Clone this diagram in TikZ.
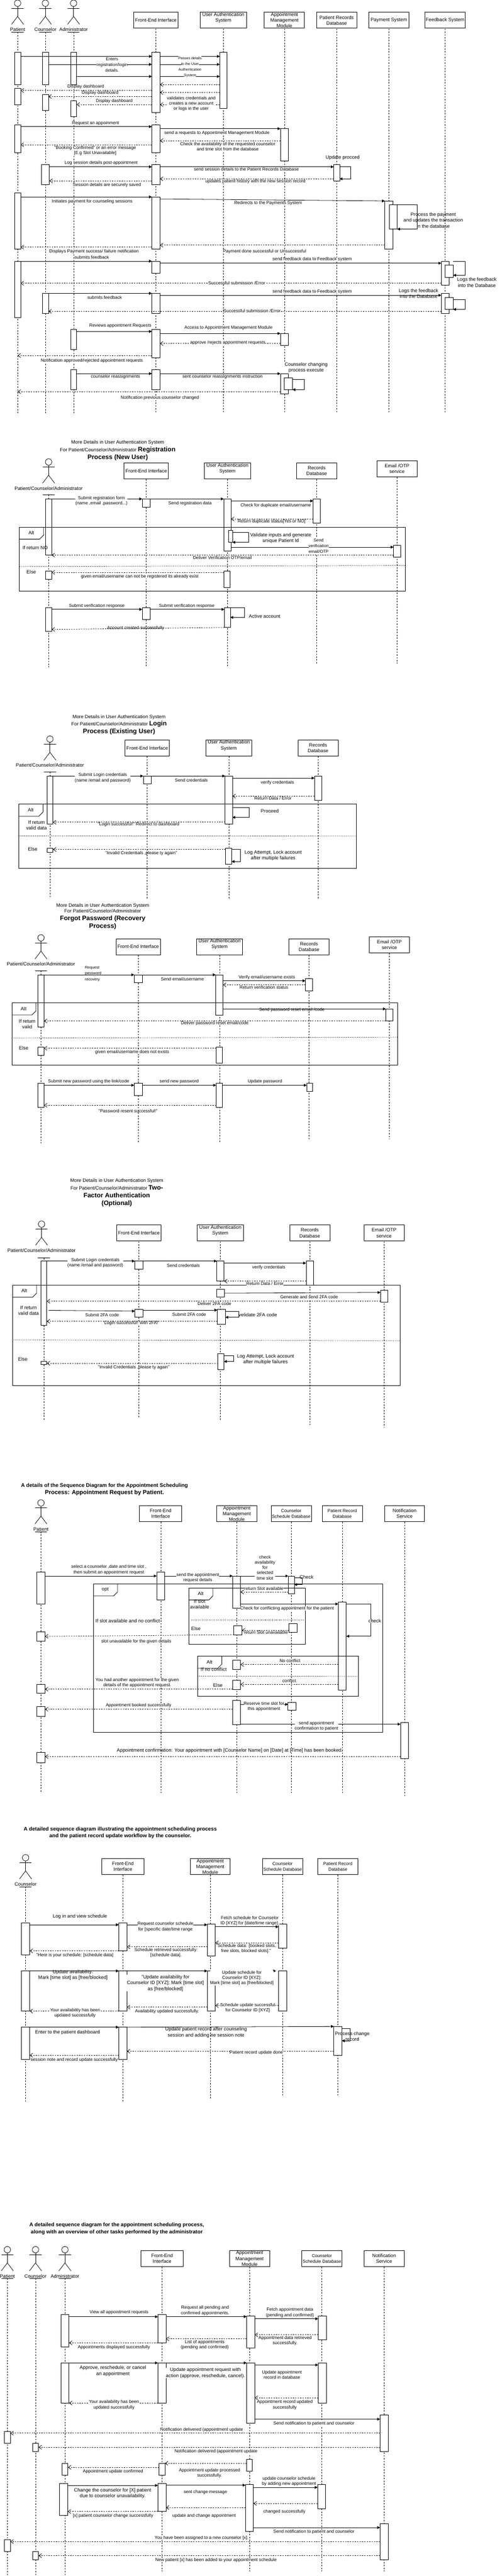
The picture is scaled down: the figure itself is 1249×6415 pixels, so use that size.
\documentclass[tikz,border=0pt]{standalone}
\usepackage{fontspec}
\setmainfont{Liberation Sans}
\usetikzlibrary{arrows.meta}
\setlength{\fboxsep}{0pt}
\newcounter{lblno}

\tikzset{
  lifeline/.style={line width=0.7pt,dash pattern=on 3.5pt off 3.5pt},
  headbox/.style={draw,line width=1pt,fill=white,inner sep=0pt,outer sep=0pt,anchor=north,minimum height=40pt,align=center,font=\fontsize{12}{14.4}\selectfont},
  actbox/.style={draw,line width=1pt,fill=white,inner sep=0pt,outer sep=0pt,anchor=north},
  framerect/.style={draw,line width=1pt,inner sep=0pt,outer sep=0pt,anchor=north west},
  call/.style={line width=1pt,-{Triangle[length=7pt,width=7pt]}},
  ret/.style={line width=1pt,dash pattern=on 3pt off 3pt,-{Straight Barb[length=7pt,width=10pt]}},
  sepline/.style={line width=1.2pt,dash pattern=on 1.5pt off 3pt},
  lab/.style={align=center,inner sep=0pt,fill=white,font=\fontsize{11}{13.2}\selectfont},
  labn/.style={align=center,inner sep=0pt,font=\fontsize{11}{13.2}\selectfont},
  labb/.style={align=center,inner sep=0pt,fill=white,font=\fontsize{12}{14.6}\selectfont},
  labbn/.style={align=center,inner sep=0pt,font=\fontsize{12}{14.6}\selectfont},
  labs/.style={align=center,inner sep=0pt,font=\fontsize{9}{14.4}\selectfont},
  labm/.style={align=center,inner sep=0pt,font=\fontsize{10.5}{14.4}\selectfont},
  titlefont/.style={align=center,inner sep=0pt,font=\fontsize{12}{19}\selectfont},
  titlebold/.style={align=center,inner sep=0pt,font=\fontsize{13}{17}\selectfont\bfseries}
}

\newcommand{\ttl}[1]{{\fontsize{16}{19}\selectfont\bfseries #1}}
\newcommand{\ttlb}[1]{{\fontsize{14.6}{17}\selectfont\bfseries #1}}
\newcommand{\wb}[1]{\colorbox{white}{\strut #1}}
% name, x, top, label, lifeline x, underline y, lifeline end
\newcommand{\actorfig}[7]{
  \node[draw,circle,inner sep=0pt,minimum size=16pt] (#1) at (#2,#3+8) {};
  \node[labbn] (#1l) at (#2,#3+73.5) {#4};
  \coordinate (#1hip) at (#2,#3+41);
  \coordinate (#1top) at (#5,#6);
  \coordinate (#1end) at (#5,#7);
  \draw (#1) -- (#1hip);
  \draw (#2-15,#3+20.4) -- (#2+15,#3+20.4);
  \draw (#2-15,#3+60.7) -- (#1hip) -- (#2+15,#3+60.7);
  \draw (#5-15,#6) -- (#5+15,#6);
  \draw[lifeline] (#1top) -- (#1end);
}
% name, x, top, width, text, lifeline end
\newcommand{\lifebox}[6]{
  \coordinate (#1end) at (#2,#6);
  \draw[lifeline] (#2,#3+20) -- (#1end);
  \node[headbox,minimum width=#4pt] (#1) at (#2,#3) {#5};
}
\newcommand{\actbar}[5][20]{\node[actbox,minimum width=#1pt,minimum height=(#5-#4)*1pt] (#2) at (#3,#4) {};}
\newcommand{\umlframe}[6]{
  \node[framerect,minimum width=(#4-#2)*1pt,minimum height=(#5-#3)*1pt] (#1) at (#2,#3) {};
  \draw[line width=1pt] (#1.north west) ++(60,0) -- ++(0,20) -- ++(-10,10) -- ++(-50,0);
  \node[labbn] (#1t) at (#2+29.4,#3+14.3) {#6};
}
\newcommand{\altsep}[5]{
  \coordinate (#1a) at (#2,#3);
  \coordinate (#1b) at (#4,#5);
  \draw[sepline] (#1a) -- (#1b);
}
\newcommand{\rmsg}[4][call]{\draw[#1] (#2.east |- 0,#4) -- (#3.west |- 0,#4);}
\newcommand{\lmsg}[4][ret]{\draw[#1] (#2.west |- 0,#4) -- (#3.east |- 0,#4);}
% from, to, right x, y1, y2
\newcommand{\loopmsg}[5]{\draw[call] (#1.east |- 0,#4) -- (#3,#4) -- (#3,#5) -- (#2.east |- 0,#5);}
\newcommand{\lbl}[4][lab]{\stepcounter{lblno}\node[#1] (t\arabic{lblno}) at (#2,#3) {#4};}

\begin{document}
\begin{tikzpicture}[x=1pt,y=-1pt,line width=1pt]
  \useasboundingbox (0,0) rectangle (1249,6415);

  %%%%% overview
  \actorfig{S1pat}{43.8}{0}{Patient}{43.8}{80.4}{1030}
  \actorfig{S1cou}{113}{0}{Counselor}{113}{80.4}{1030}
  \actorfig{S1adm}{183.2}{0}{Administrator}{183.2}{80.4}{1030}
  \lifebox{S1fe}{388}{30.4}{110}{Front-End Interface}{1028}
  \lifebox{S1ua}{556}{30.4}{115}{User Authentication\\System\\~}{1028}
  \lifebox{S1am}{708}{30.4}{100}{Appointment\\Management\\Module}{1028}
  \lifebox{S1pr}{838}{30.4}{100}{Patient Records\\Database}{1028}
  \lifebox{S1pay}{968}{30.4}{100}{Payment System}{1028}
  \lifebox{S1fb}{1108}{30.4}{100}{Feedback System}{1028}

  %bars
  \actbar[15]{S1P1}{43.8}{130.4}{210.4}
  \actbar[15]{S1C1}{113}{130.4}{210.4}
  \actbar[15]{S1A1}{183.2}{130.4}{210.4}
  \actbar{S1F1}{388}{130.4}{280.4}
  \actbar[18]{S1U1}{556}{130.4}{270.4}
  \actbar[15]{S1P2}{43.8}{220.4}{260.4}
  \actbar[15]{S1C2}{113}{235.4}{275.4}
  \actbar[15]{S1A2}{183.2}{250.4}{290.4}
  \actbar[15]{S1P3}{43.8}{310.4}{380.4}
  \actbar{S1F2}{388}{310.4}{380.4}
  \actbar{S1M1}{708}{320.4}{400.4}
  \actbar{S1C3}{113}{410.4}{460.4}
  \actbar{S1F3}{388}{410.4}{460.4}
  \actbar[15]{S1R1}{838}{410.4}{450.4}
  \actbar[15]{S1P4}{43.8}{480.4}{620.4}
  \actbar{S1F4}{388}{490.4}{620.4}
  \actbar{S1Y1}{968}{500.4}{620.4}
  \actbar{S1Y2}{978.6}{510.4}{570.4}
  \actbar[15]{S1P5}{43.8}{650.4}{790.4}
  \actbar{S1F5}{388}{650.4}{680.4}
  \actbar{S1B1}{1108.5}{650.4}{710.4}
  \actbar{S1B2}{1118}{660.4}{690.4}
  \actbar[15]{S1C4}{113}{730.4}{780.4}
  \actbar{S1F6}{388}{730.4}{780.4}
  \actbar{S1B3}{1108.5}{730.4}{780.4}
  \actbar{S1B4}{1118}{740.4}{770.4}
  \actbar[15]{S1A3}{183.2}{820.4}{870.4}
  \actbar{S1F7}{388}{820.4}{890.4}
  \actbar{S1M2}{708}{830.4}{860.4}
  \actbar[15]{S1A4}{183.2}{920.4}{970.4}
  \actbar{S1F8}{388}{920.4}{970.4}
  \actbar{S1M3}{708}{930.4}{980.4}
  \actbar{S1M4}{718}{940.4}{970.4}

  %messages
  \rmsg{S1P1}{S1F1}{140.4}
  \rmsg{S1C1}{S1F1}{160.4}
  \rmsg{S1A1}{S1F1}{190.4}
  \rmsg{S1F1}{S1U1}{140.4}
  \rmsg{S1F1}{S1U1}{160.4}
  \rmsg{S1F1}{S1U1}{190.4}
  \lmsg{S1U1}{S1F1}{210.4}
  \lmsg{S1U1}{S1F1}{230.4}
  \lmsg{S1U1}{S1F1}{260.4}
  \lmsg{S1F1}{S1P2}{225.4}
  \lmsg{S1F1}{S1C2}{240.4}
  \lmsg{S1F1}{S1A2}{260.4}
  \rmsg{S1P3}{S1F2}{315.4}
  \rmsg{S1F2}{S1M1}{320.4}
  \lmsg{S1M1}{S1F2}{350.4}
  \lmsg{S1F2}{S1P3}{360.4}
  \rmsg{S1C3}{S1F3}{415.4}
  \rmsg{S1F3}{S1R1}{415.4}
  \loopmsg{S1R1}{S1R1}{873}{415.4}{445.4}
  \lmsg{S1R1}{S1F3}{445.4}
  \lmsg{S1F3}{S1C3}{450.4}
  \rmsg{S1P4}{S1F4}{490.4}
  \draw[call] (S1F4.east |- 0,495.4) -- (S1Y1.west |- 0,500.4);
  \loopmsg{S1Y2}{S1Y2}{1038}{510.4}{570.4}
  \lmsg{S1Y1}{S1F4}{610.4}
  \lmsg{S1F4}{S1P4}{615.4}
  \rmsg{S1P5}{S1F5}{650.4}
  \rmsg{S1F5}{S1B1}{655.4}
  \loopmsg{S1B2}{S1B2}{1158}{650.4}{685.4}
  \lmsg{S1B1}{S1P5}{705.4}
  \rmsg{S1C4}{S1F6}{730.4}
  \rmsg{S1F6}{S1B3}{735.4}
  \loopmsg{S1B4}{S1B4}{1158}{745.4}{770.4}
  \lmsg{S1B3}{S1C4}{775.4}
  \rmsg{S1A3}{S1F7}{825.4}
  \rmsg{S1F7}{S1M2}{830.4}
  \lmsg{S1M2}{S1F7}{855.4}
  \draw[ret] (S1F7.west |- 0,885.4) -- (S1pattop |- 0,885.4);
  \rmsg{S1A4}{S1F8}{930.4}
  \rmsg{S1F8}{S1M3}{930.4}
  \loopmsg{S1M4}{S1M4}{758}{945.4}{970.4}
  \draw[ret] (S1M3.west |- 0,975.4) -- (S1pattop |- 0,975.4);

  %labels
  \lbl[labm]{279}{161}{Enters\\\wb{registration/login}\\details.}
  \lbl[labs]{473}{166.5}{\wb{Passes details}\\\wb{to the User}\\Authentication\\\wb{System}}
  \lbl{476}{258}{validates credentials and\\creates a new account\\or logs in the user}
  \lbl{213.5}{216.4}{Display dashboard}
  \lbl{249}{231.4}{Display dashboard}
  \lbl{284.4}{251.4}{Display dashboard}
  \lbl{238}{306.4}{Request an appoinment}
  \lbl{540}{331.4}{send a requests to Appointment Management Module}
  \lbl{567}{365}{Check the availability of the requested counselor\\and time slot from the database}
  \lbl{237}{375}{"Booking Confirmed" or an error message\\{[}E.g Slot Unavailable]}
  \lbl{251.7}{406.4}{Log session details post-appointment}
  \lbl{613.4}{421.4}{send session details to the Patient Records Database}
  \lbl[labbn]{853}{392.9}{Update procced}
  \lbl{635.7}{451.4}{updates patient history with the new session record}
  \lbl{266}{461.4}{Session details are securely saved}
  \lbl{229.4}{501.4}{Initiates payment for counseling sessions}
  \lbl{667.5}{506.4}{Redirects to the Payments System}
  \lbl[labbn]{1078.5}{548.4}{Process the payment\\and updates the transaction\\in the database}
  \lbl{658.8}{626.3}{Payment done successful or Unsuccessful}
  \lbl{234}{626.3}{Displays Payment success/ failure notification}
  \lbl{228.6}{641.3}{submits feedback}
  \lbl{777.4}{646.3}{send feedback data to Feedback system}
  \lbl[labb]{1187}{703.3}{Logs the feedback\\into the Database}
  \lbl{589.5}{704.3}{Successful submission /Error}
  \lbl{260.5}{741.3}{submits feedback}
  \lbl{777.4}{726.3}{send feedback data to Feedback system}
  \lbl[labbn]{1042}{730.5}{Logs the feedback\\into the Database}
  \lbl{627.7}{774.3}{Successful submission /Error}
  \lbl{299.5}{811.3}{Reviews appointment Requests}
  \lbl{568.7}{816.3}{Access to Appointment Management Module}
  \lbl{567}{853.6}{approve /rejects appointment requests}
  \lbl{228.6}{898.6}{Notification approved/rejected appointment requests}
  \lbl{287.5}{938.6}{counselor reassignments}
  \lbl{554}{938.6}{sent counselor reassignments instruction}
  \lbl[labb]{762}{915.5}{Counselor changing\\process execute}
  \lbl{398}{991.3}{Notification previous counselor changed}

  %%%%% registration
  \node[titlefont] (S2title) at (293,1122) {More Details in User Authentication System\\For Patient/Counselor/Administrator \ttl{Registration}\\\ttl{Process (New User)}};
  \actorfig{S2act}{121}{1142.5}{Patient/Counselor/Administrator}{121}{1232.5}{1662}
  \lifebox{S2fe}{364}{1152.5}{110}{Front-End Interface}{1662}
  \lifebox{S2ua}{566}{1152.5}{115}{User Authentication\\System\\~}{1662}
  \lifebox{S2rd}{788.3}{1152.5}{100}{Records\\Database}{1652}
  \lifebox{S2em}{988.3}{1147.5}{100}{Email /OTP\\service}{1652}

  \actbar[15]{S2P1}{121}{1242.5}{1382.5}
  \actbar{S2F1}{364}{1242.5}{1262.5}
  \actbar[18]{S2U1}{566}{1242.5}{1372.5}
  \actbar[18]{S2R1}{788.6}{1242.5}{1302.5}
  \actbar[10]{S2U2}{573.5}{1320.5}{1350.5}
  \actbar[18]{S2E1}{988.5}{1357.5}{1387.5}
  \actbar[15]{S2P2}{121}{1422.5}{1442.5}
  \actbar[15]{S2U3}{565}{1422.5}{1462.5}
  \actbar[15]{S2P3}{121}{1512.5}{1572.5}
  \actbar{S2F2}{364}{1512.5}{1542.5}
  \actbar[15]{S2U4}{566}{1512.5}{1562.5}
  \umlframe{S2alt}{48.6}{1312.5}{1008.4}{1472.5}{Alt}
  \altsep{S2sep}{48.6}{1411}{1008.4}{1408.2}

  \rmsg{S2P1}{S2F1}{1242.5}
  \rmsg{S2F1}{S2U1}{1242.5}
  \rmsg{S2U1}{S2R1}{1247.5}
  \lmsg{S2R1}{S2U1}{1292.5}
  \loopmsg{S2U2}{S2U2}{619}{1325.4}{1350.5}
  \rmsg{S2U1}{S2E1}{1362.5}
  \lmsg{S2E1}{S2P1}{1382.5}
  \lmsg{S2U3}{S2P2}{1425.4}
  \rmsg{S2P3}{S2F2}{1517.5}
  \rmsg{S2F2}{S2U4}{1517.5}
  \loopmsg{S2U4}{S2U4}{608.6}{1512.5}{1537.5}
  \draw[ret] (S2U4.west |- 0,1562.5) -- (S2P3.east |- 0,1567.5);

  \lbl{252.5}{1247}{Submit registration form\\(name ,email ,password...)}
  \lbl{473}{1253.6}{Send registration data}
  \lbl{686.6}{1258.6}{Check for duplicate email/username}
  \lbl{676}{1298.6}{Return duplicate status[Yes or NO]}
  \lbl[labbn]{87.6}{1364.6}{If return NO}
  \lbl[labb]{699}{1340.5}{Validate inputs and generate\\unique Patient Id}
  \lbl[labm]{793}{1360.5}{\wb{Send}\\\wb{verification}\\\wb{email/OTP}}
  \lbl{553.6}{1388.2}{Deliver Verification OTP/email}
  \lbl[labbn]{78}{1424.6}{Else}
  \lbl{348}{1435.4}{given email/username can not be registered its already exist}
  \lbl{241}{1508.6}{Submit verification response}
  \lbl{465}{1508.6}{Submit verification response}
  \lbl[labbn]{658.7}{1534.6}{Active account}
  \lbl[labn]{337.7}{1564.6}{Account created successfully}

  %%%%% login
  \node[titlefont] (S3title) at (296.3,1805) {More Details in User Authentication System\\For Patient/Counselor/Administrator \ttl{Login}\\\ttl{Process (Existing User)}};
  \actorfig{S3act}{124.3}{1832.5}{Patient/Counselor/Administrator}{124.3}{1922.5}{2237}
  \lifebox{S3fe}{366.6}{1842.5}{110}{Front-End Interface}{2237}
  \lifebox{S3ua}{569.5}{1842.5}{115}{User Authentication\\System\\~}{2237}
  \lifebox{S3rd}{791.8}{1842.5}{100}{Records\\Database}{2237}

  \actbar[15]{S3P1}{124.3}{1932.5}{2052.5}
  \actbar{S3F1}{366.6}{1932.5}{1952.5}
  \actbar[18]{S3U1}{569.5}{1932.5}{2052.5}
  \actbar[18]{S3R1}{791.8}{1932.5}{1992.5}
  \actbar[15]{S3P2}{124.3}{2112.5}{2122.5}
  \actbar[15]{S3U2}{569}{2112.5}{2152.5}
  \umlframe{S3alt}{47}{2002.5}{887.4}{2162.5}{Alt}
  \altsep{S3sep}{47}{2081.4}{887.4}{2082}

  \rmsg{S3P1}{S3F1}{1932.5}
  \rmsg{S3F1}{S3U1}{1932.5}
  \rmsg{S3U1}{S3R1}{1937.5}
  \lmsg{S3R1}{S3U1}{1982.5}
  \loopmsg{S3U1}{S3U1}{619.7}{2010.4}{2035.4}
  \lmsg{S3U1}{S3P1}{2047.5}
  \lmsg{S3U2}{S3P2}{2115.4}
  \loopmsg{S3U2}{S3U2}{599}{2115.4}{2145.4}

  \lbl{255.7}{1937}{Submit Login credentials\\(name /email and password)}
  \lbl{476.4}{1943.6}{Send credentials}
  \lbl{690.6}{1948.6}{verify credentials}
  \lbl{679.5}{1988.2}{Return Data / Error}
  \lbl[labbn]{671.5}{2020}{Proceed}
  \lbl{345}{2053.2}{"Login successful!" Redirect to dashboard}
  \lbl[labbn]{90.8}{2055.2}{If return\\valid data}
  \lbl[labbn]{81.3}{2114.6}{Else}
  \lbl[labn]{351.3}{2125.4}{"Invalid Credentials ,please ty again"}
  \lbl[labbn]{680}{2130.7}{Log Attempt, Lock account\\after multiple failures}

  %%%%% forgot password
  \node[titlefont,font=\fontsize{12}{14}\selectfont] (S4title) at (255.7,2282) {More Details in User Authentication System\\For Patient/Counselor/Administrator\\[5pt]\ttl{Forgot Password (Recovery}\\[3pt]\ttl{Process)}};
  \actorfig{S4act}{102}{2327.5}{Patient/Counselor/Administrator}{102}{2417.5}{2846.5}
  \lifebox{S4fe}{344}{2337.5}{110}{Front-End Interface}{2847}
  \lifebox{S4ua}{546.6}{2337.5}{115}{User Authentication\\System\\~}{2847}
  \lifebox{S4rd}{769.3}{2337.5}{100}{Records\\Database}{2837}
  \lifebox{S4em}{969.4}{2332.5}{100}{Email /OTP\\service}{2837}

  \actbar[15]{S4P1}{102}{2427.5}{2557.5}
  \actbar{S4F1}{344}{2427.5}{2447.5}
  \actbar[18]{S4U1}{546}{2427.5}{2527.5}
  \actbar[18]{S4R1}{769.3}{2437.5}{2467.5}
  \actbar[18]{S4E1}{969.4}{2512.5}{2542.5}
  \actbar[15]{S4P2}{102}{2607.5}{2627.5}
  \actbar[15]{S4U2}{545.5}{2607.5}{2647.5}
  \actbar[15]{S4P3}{102}{2697.5}{2757.5}
  \actbar{S4F2}{344}{2697.5}{2727.5}
  \actbar[15]{S4U3}{545.5}{2697.5}{2757.5}
  \actbar[15]{S4R2}{771}{2697.5}{2717.5}
  \umlframe{S4alt}{29.5}{2497.5}{990}{2652.5}{Alt}
  \altsep{S4sep}{29.5}{2585}{990}{2582.9}

  \rmsg{S4P1}{S4F1}{2427.5}
  \rmsg{S4F1}{S4U1}{2427.5}
  \rmsg{S4U1}{S4R1}{2442.5}
  \lmsg{S4R1}{S4U1}{2452.5}
  \rmsg{S4U1}{S4E1}{2512.5}
  \lmsg{S4E1}{S4P1}{2542.5}
  \lmsg{S4U2}{S4P2}{2610.4}
  \rmsg{S4P3}{S4F2}{2702.5}
  \rmsg{S4F2}{S4U3}{2702.5}
  \rmsg{S4U3}{S4R2}{2702.5}
  \lmsg{S4U3}{S4P3}{2752.5}

  \lbl[labm,align=left,font=\fontsize{9.6}{14.8}\selectfont]{232}{2424.6}{Request\\password\\recovery}
  \lbl{454}{2438.6}{Send email/username}
  \lbl{664.3}{2433.6}{Verify email/username exists}
  \lbl{657}{2458.6}{Return verification status}
  \lbl[labn]{726.5}{2515}{Send password reset email /code}
  \lbl{534.5}{2548.6}{Deliver password reset email/code}
  \lbl[labbn]{67.7}{2550.4}{If return\\valid}
  \lbl[labbn]{59}{2609.6}{Else}
  \lbl{329}{2620.4}{given email/username does not exists}
  \lbl{220.6}{2693.6}{Submit new password using the link/code}
  \lbl{446}{2693.6}{send new password}
  \lbl{659.6}{2693.6}{Update password}
  \lbl[labn]{318.6}{2766.8}{"Password resent successful!"}

  %%%%% two factor
  \node[titlefont] (S5title) at (290.7,2970) {More Details in User Authentication System\\For Patient/Counselor/Administrator \ttl{Two-}\\\ttl{Factor Authentication}\\\ttl{(Optional)}};
  \actorfig{S5act}{103.5}{3040.4}{Patient/Counselor/Administrator}{109}{3132.9}{3537.5}
  \lifebox{S5fe}{345.7}{3050.4}{110}{Front-End Interface}{3531}
  \lifebox{S5ua}{548.4}{3050.4}{115}{User Authentication\\System\\~}{3537.5}
  \lifebox{S5rd}{771}{3050.4}{100}{Records\\Database}{3549}
  \lifebox{S5em}{956}{3050.4}{100}{Email /OTP\\service}{3555.7}

  \actbar[15]{S5P1}{109}{3140.4}{3300.4}
  \actbar{S5F1}{345.7}{3140.4}{3160.4}
  \actbar[18]{S5U1}{548.8}{3140.4}{3190.4}
  \actbar[18]{S5R1}{771}{3140.4}{3200.4}
  \actbar{S5U2}{548.8}{3210.4}{3230.4}
  \actbar[18]{S5E1}{956}{3213.2}{3243.2}
  \actbar{S5F2}{345.7}{3260.4}{3280.4}
  \actbar{S5U3}{551}{3260.4}{3297.5}
  \actbar[15]{S5P2}{109}{3390.4}{3398.2}
  \actbar[15]{S5U4}{550}{3370.4}{3410.4}
  \umlframe{S5alt}{31}{3200.4}{996.5}{3450.4}{Alt}
  \altsep{S5sep}{34}{3336.8}{996.5}{3338.6}

  \coordinate (S5from) at (121,3263.2);
  \rmsg{S5P1}{S5F1}{3140.4}
  \rmsg{S5F1}{S5U1}{3140.4}
  \rmsg{S5U1}{S5R1}{3145.4}
  \lmsg{S5R1}{S5U1}{3190.4}
  \draw[call] (S5U2.east |- 0,3220.4) -- (S5E1.west |- 0,3218.6);
  \lmsg{S5E1}{S5P1}{3240.4}
  \draw[call] (S5from) -- (S5F2.west |- 0,3265);
  \rmsg{S5F2}{S5U3}{3262.5}
  \loopmsg{S5U3}{S5U3}{595}{3265.4}{3280.4}
  \lmsg{S5U3}{S5P1}{3290.4}
  \lmsg{S5U4}{S5P2}{3395}
  \loopmsg{S5U4}{S5U4}{581.5}{3375.4}{3390.4}

  \lbl{237.4}{3145}{Submit Login credentials\\(name /email and password)}
  \lbl{456.4}{3151.4}{Send credentials}
  \lbl{669}{3156.4}{verify credentials}
  \lbl{659.6}{3196.4}{Return Data / Error}
  \lbl{769.5}{3230.4}{Generate and send 2FA code}
  \lbl{533.7}{3246.4}{Deliver 2FA code}
  \lbl[labbn]{71}{3263.4}{If return\\valid data}
  \lbl{254}{3275}{Submit 2FA code}
  \lbl{470.8}{3273}{Submit 2FA code}
  \lbl[labbn]{642}{3274.6}{velidate 2FA code}
  \lbl{326.6}{3295.7}{"Login successful! with 2FA!"}
  \lbl[labbn]{56.6}{3384.6}{Else}
  \lbl[labn]{333}{3405.4}{"Invalid Credentials ,please ty again"}
  \lbl[labbn]{661}{3385.4}{Log Attempt, Lock account\\after multiple failures}

  %%%%% appointment request
  \node[titlebold] (S6title) at (260,3709) {A details of the Sequence Diagram for the Appointment Scheduling\\\ttlb{Process: Appointment Request by Patient.}};
  \actorfig{S6act}{102}{3734.6}{Patient}{102}{3814.3}{4464.6}
  \lifebox{S6fe}{400}{3749.3}{105}{Front-End\\Interface}{4464.6}
  \lifebox{S6am}{589.5}{3749.3}{100}{Appointment\\Management\\Module}{4464.6}
  \lifebox{S6cs}{724.8}{3749.3}{100}{\fontsize{11}{14.4}\selectfont Counselor\\\fontsize{11}{14.4}\selectfont Schedule Database}{4464.6}
  \lifebox{S6pr}{852}{3749.3}{100}{\fontsize{11}{14.4}\selectfont Patient Record\\\fontsize{11}{14.4}\selectfont Database}{4464.6}
  \lifebox{S6ns}{1007}{3749.3}{100}{Notification\\Service}{4475.4}

  \actbar{S6P1}{102}{3914.3}{3994.3}
  \actbar{S6F1}{400}{3914.3}{3984.3}
  \actbar{S6A1}{589}{3924.6}{4004.3}
  \actbar[15]{S6C1}{725}{3924.6}{3969.3}
  \actbar{S6R1}{852}{3989.3}{4209.3}
  \actbar{S6A2}{592}{4048.6}{4071.4}
  \actbar{S6C2}{729.5}{4042.9}{4065.4}
  \actbar{S6P2}{102}{4064.3}{4086.4}
  \actbar{S6A3}{589}{4134.3}{4156.8}
  \actbar{S6A4}{589}{4184.3}{4206.8}
  \actbar{S6P3}{102}{4194.3}{4216.4}
  \actbar{S6A5}{589}{4234.3}{4294.3}
  \actbar{S6C3}{727}{4239.3}{4259.3}
  \actbar{S6P4}{102}{4249.3}{4274.3}
  \actbar{S6N1}{1007}{4289.3}{4379.3}
  \actbar{S6P5}{102}{4364.3}{4389.3}
  \umlframe{S6opt}{232.6}{3944.3}{952}{4314.3}{opt}
  \umlframe{S6altA}{470}{3954.3}{760}{4094.3}{Alt}
  \umlframe{S6altB}{492.3}{4124.3}{892}{4224.3}{Alt}
  \altsep{S6sepA}{475.5}{4034.6}{760}{4034.6}
  \altsep{S6sepB}{492.3}{4174}{892}{4174.6}

  \rmsg{S6P1}{S6F1}{3924.6}
  \rmsg{S6F1}{S6A1}{3924.6}
  \rmsg{S6A1}{S6C1}{3924.6}
  \loopmsg{S6C1}{S6C1}{752.7}{3929.6}{3946}
  \lmsg{S6C1}{S6A1}{3964.6}
  \rmsg{S6A1}{S6R1}{3994.3}
  \loopmsg{S6R1}{S6R1}{922.4}{3994.3}{4074.6}
  \lmsg{S6C2}{S6A2}{4060}
  \draw[ret] (S6A2.west |- 0,4071) -- (S6P2.east |- 0,4075);
  \lmsg{S6R1}{S6A3}{4145}
  \lmsg{S6R1}{S6A4}{4194.6}
  \lmsg{S6A4}{S6P3}{4206.4}
  \rmsg{S6A5}{S6C3}{4244.3}
  \lmsg{S6A5}{S6P4}{4256.4}
  \rmsg{S6A5}{S6N1}{4293.6}
  \lmsg{S6N1}{S6P5}{4374.3}

  \lbl[labn]{271}{3909}{select a counselor ,date and time slot ,\\then submit an appointment request}
  \lbl{492.3}{3929}{send the appointment\\request details}
  \lbl{659.6}{3903.6}{check\\availability\\for\\selected\\time slot}
  \lbl[labbn]{763}{3926.8}{Check}
  \lbl{657}{3955.4}{return Slot available}
  \lbl[labbn]{497}{3994.6}{If slot\\available}
  \lbl{714.5}{4005.4}{Check for conflicting appointment for the patient}
  \lbl[labb]{932.8}{4037.1}{check}
  \lbl[labbn]{318}{4036.8}{If slot available and no conflict}
  \lbl[labbn]{487.5}{4055.7}{Else}
  \lbl{662}{4065.4}{return Slot unavailable}
  \lbl{339.3}{4087.5}{slot unavailable for the given details}
  \lbl[labbn]{532}{4156.8}{If no conflict}
  \lbl{721.7}{4136}{No conflict}
  \lbl{720}{4185.4}{conflict}
  \lbl[labbn]{542.5}{4196.8}{Else}
  \lbl{341.7}{4191}{You had another appointment for the given\\details of the appointment request.}
  \lbl{657}{4250}{Reserve time slot for\\this appointment}
  \lbl{345}{4247.5}{Appointment booked successfully}
  \lbl{787.8}{4298}{send appointment\\confirmation to patient}
  \lbl[labbn]{572}{4359.6}{Appointment confirmation: Your appointment with [Counselor Name] on [Date] at [Time] has been booked.}

  %%%%% counselor
  \node[titlebold] (S7title) at (299.5,4564) {A detailed sequence diagram illustrating the appointment scheduling process\\and the patient record update workflow by the counselor.};
  \actorfig{S7act}{63.7}{4618.2}{Counselor}{63.7}{4698.2}{5235.7}
  \lifebox{S7fe}{305.9}{4628.2}{105}{Front-End\\Interface}{5235.7}
  \lifebox{S7am}{523.3}{4628.2}{100}{Appointment\\Management\\Module}{5229}
  \lifebox{S7cs}{703.4}{4628.2}{100}{\fontsize{11}{14.4}\selectfont Counselor\\\fontsize{11}{14.4}\selectfont Schedule Database}{5217.5}
  \lifebox{S7pr}{841}{4628.2}{100}{\fontsize{11}{14.4}\selectfont Patient Record\\\fontsize{11}{14.4}\selectfont Database}{5217.5}

  \actbar{S7C1}{63.7}{4788.2}{4868.2}
  \actbar{S7F1}{305.9}{4788.2}{4858.2}
  \actbar{S7A1}{526}{4790.7}{4871}
  \actbar{S7D1}{703.4}{4790.7}{4851}
  \actbar{S7C2}{63.7}{4908.2}{5008.2}
  \actbar{S7F2}{305.9}{4908.2}{5008.2}
  \actbar{S7A2}{526}{4908.2}{5008.2}
  \actbar{S7D2}{703.4}{4908.2}{5008.2}
  \actbar{S7C3}{63.7}{5048.2}{5128.2}
  \actbar{S7F3}{305.9}{5048.2}{5128.2}
  \actbar{S7R1}{841}{5046.4}{5118.2}

  \coordinate (S7tip) at (687,4908.2);
  \rmsg{S7C1}{S7F1}{4793.2}
  \rmsg{S7F1}{S7A1}{4793.2}
  \rmsg{S7A1}{S7D1}{4798.2}
  \lmsg{S7D1}{S7A1}{4838.2}
  \lmsg{S7A1}{S7F1}{4848.2}
  \lmsg{S7F1}{S7C1}{4858.2}
  \rmsg{S7C2}{S7F2}{4908.2}
  \rmsg{S7F2}{S7A2}{4908.2}
  \draw[call] (S7A2.east |- 0,4908.2) -- (S7tip);
  \lmsg{S7D2}{S7A2}{4994.3}
  \lmsg{S7A2}{S7F2}{4998.2}
  \lmsg{S7F2}{S7C2}{5008.2}
  \rmsg{S7C3}{S7F3}{5048.2}
  \draw[call] (S7F3.east |- 0,5048.2) -- (S7R1.west |- 0,5046.4);
  \loopmsg{S7R1}{S7R1}{871.4}{5051.4}{5082}
  \lmsg{S7R1}{S7F3}{5108.2}
  \lmsg{S7F3}{S7C3}{5118.2}

  \lbl[labb]{199}{4772.9}{Log in and view schedule}
  \lbl{411.8}{4798}{Request counselor schedule\\for [specific date/time range}
  \lbl{622}{4783}{Fetch schedule for Counselor\\ID [XYZ] for [date/time range].}
  \lbl{612.6}{4853}{"Schedule data: [booked slots,\\free slots, blocked slots]."}
  \lbl{413.4}{4863}{Schedule retrieved successfully:\\{[}schedule data].}
  \lbl{186.4}{4869.3}{"Here is your schedule: [schedule data]}
  \lbl[labbn]{181.6}{4918.5}{Update availability:\\Mark [time slot] as [free/blocked]}
  \lbl[labb]{411.8}{4938.5}{"Update availability for\\Counselor ID [XYZ]: Mark [time slot]\\as [free/blocked]}
  \lbl{602}{4926}{Update schedule for\\Counselor ID [XYZ]:\\Mark [time slot] as [free/blocked]}
  \lbl{616.5}{5000}{Schedule update successful\\for Counselor ID [XYZ]}
  \lbl{415.8}{5009.3}{Availability updated successfully.}
  \lbl{187}{5013}{Your availability has been\\updated successfully}
  \lbl[labbn]{168}{5061}{Enter to the patient dashboard}
  \lbl[labbn]{513}{5061.5}{Update patient record after counseling\\session and adding ne session note}
  \lbl[labbn]{877}{5071.5}{Process change\\record}
  \lbl{638}{5111.4}{Patient record update done}
  \lbl{184.8}{5129.3}{session note and record update successfully}

  %%%%% administrator
  \node[titlebold] (S8title) at (290.7,5550) {A detailed sequence diagram for the appointment scheduling process,\\along with an overview of other tasks performed by the administrator};
  \actorfig{S8pat}{18.3}{5594.3}{Patient}{18.3}{5674.3}{6415}
  \actorfig{S8cou}{88.4}{5594.3}{Counselor}{88.4}{5674.3}{6415}
  \actorfig{S8adm}{161.7}{5594.3}{Administrator}{161.7}{5674.3}{6415}
  \lifebox{S8fe}{403.4}{5604.3}{105}{Front-End\\Interface}{6404}
  \lifebox{S8am}{621.3}{5604.3}{100}{Appointment\\Management\\Module}{6404}
  \lifebox{S8cs}{801.3}{5604.3}{100}{\fontsize{11}{14.4}\selectfont Counselor\\\fontsize{11}{14.4}\selectfont Schedule Database}{6404}
  \lifebox{S8ns}{956}{5604.3}{100}{Notification\\Service}{6404}

  \actbar{S8A1}{161.7}{5764.3}{5844.3}
  \actbar{S8F1}{403}{5764.3}{5834.3}
  \actbar{S8M1}{624}{5767}{5847}
  \actbar{S8D1}{802}{5767}{5827}
  \actbar{S8A2}{161.7}{5884.3}{5984.3}
  \actbar{S8F2}{403}{5884.3}{5984.3}
  \actbar{S8M2}{624}{5884.3}{6034.3}
  \actbar{S8D2}{802}{5884.3}{5984.3}
  \actbar{S8N1}{956}{6014.3}{6104.3}
  \actbar[15]{S8P1}{18.3}{6054.3}{6084.3}
  \actbar[15]{S8C1}{88.4}{6084.3}{6104.3}
  \actbar[14]{S8M3}{621.3}{6124.3}{6154.3}
  \actbar[15]{S8F3}{403}{6134.3}{6164.3}
  \actbar[15]{S8A3}{161.7}{6134.3}{6164.3}
  \actbar{S8A4}{158.6}{6184.3}{6264.3}
  \actbar{S8F4}{403}{6184.3}{6254.3}
  \actbar{S8M4}{621}{6186.7}{6304.3}
  \actbar{S8D3}{800.5}{6186.7}{6247}
  \actbar{S8N2}{956}{6284.3}{6374.3}
  \actbar[15]{S8P2}{18.3}{6324.3}{6354.3}
  \actbar[15]{S8C2}{88.4}{6354.3}{6374.3}

  \rmsg{S8A1}{S8F1}{5769.3}
  \rmsg{S8F1}{S8M1}{5769}
  \rmsg{S8M1}{S8D1}{5774.3}
  \lmsg{S8D1}{S8M1}{5814.3}
  \lmsg{S8M1}{S8F1}{5824.3}
  \lmsg{S8F1}{S8A1}{5834.3}
  \rmsg{S8A2}{S8F2}{5884.3}
  \rmsg{S8F2}{S8M2}{5884.3}
  \rmsg{S8M2}{S8D2}{5889.3}
  \lmsg{S8D2}{S8M2}{5971.3}
  \lmsg{S8F2}{S8A2}{5984.3}
  \rmsg{S8M2}{S8N1}{6024.3}
  \lmsg{S8N1}{S8P1}{6059.3}
  \lmsg{S8N1}{S8C1}{6094.3}
  \lmsg{S8M3}{S8F3}{6134.3}
  \lmsg{S8F3}{S8A3}{6144.3}
  \rmsg{S8A4}{S8F4}{6189.3}
  \rmsg{S8F4}{S8M4}{6188.7}
  \rmsg{S8M4}{S8D3}{6194.3}
  \lmsg{S8D3}{S8M4}{6234.3}
  \lmsg{S8M4}{S8F4}{6244.3}
  \lmsg{S8F4}{S8A4}{6254.3}
  \rmsg{S8M4}{S8N2}{6294.3}
  \lmsg{S8N2}{S8P2}{6329.3}
  \lmsg{S8N2}{S8C2}{6364.3}

  \lbl{296.3}{5759}{View all appointment requests}
  \lbl{510.6}{5753.8}{Request all pending and\\confirmed appointments.}
  \lbl{721.7}{5759}{Fetch appointment data\\(pending and confirmed)}
  \lbl{709.7}{5828.8}{Appointment data retrieved\\successfully.}
  \lbl{509.8}{5839}{List of appointments\\(pending and confirmed)}
  \lbl{283.6}{5845.3}{Appointments displayed successfully}
  \lbl[labb]{281.2}{5904.3}{Approve, reschedule, or cancel\\an appointment}
  \lbl[labb]{511.4}{5909.5}{Update appointment request with\\action (approve, reschedule, cancel).}
  \lbl{701.8}{5913.8}{Update appointment\\record in database}
  \lbl{709}{5988.8}{Appointment record updated\\successfully}
  \lbl{283.6}{5988.8}{Your availability has been\\updated successfully}
  \lbl{781.4}{6035.3}{Send notification to patient and counselor}
  \lbl{501.8}{6050.3}{Notification delivered (appointment update}
  \lbl{537.7}{6105.3}{Notification delivered (appointment update}
  \lbl{521.7}{6158.8}{Appointment update processed\\successfully.}
  \lbl{281.2}{6155.3}{Appointment update confirmed}
  \lbl[labb]{280.4}{6209.5}{Change the counselor for [X] patient\\due to counselor unavailability.}
  \lbl{511.4}{6205.7}{sent change message}
  \lbl{719.3}{6178.8}{update counselor schedule\\by adding new appointment}
  \lbl{708}{6255.3}{changed successfully}
  \lbl{508.2}{6265.3}{update and change appointment}
  \lbl{281.2}{6265.3}{[x] patient counselor change successfully}
  \lbl{781.4}{6305.3}{Send notification to patient and counselor}
  \lbl{501.8}{6320.3}{You have been assigned to a new counselor [x].}
  \lbl{537.7}{6375.3}{New patient [x] has been added to your appointment schedule}
\end{tikzpicture}
\end{document}
